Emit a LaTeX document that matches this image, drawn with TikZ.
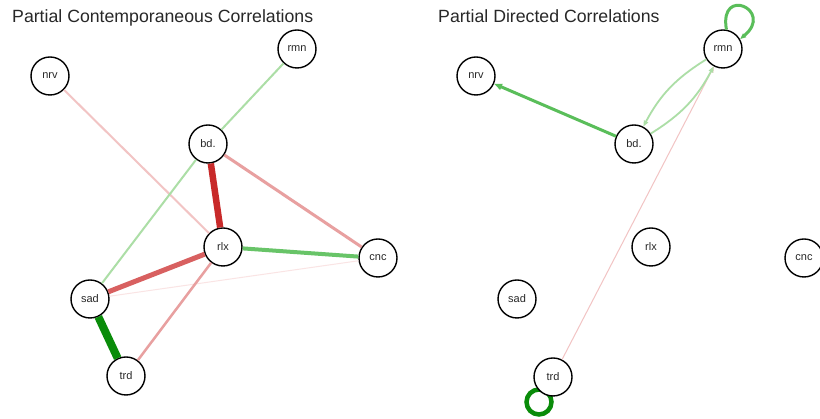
\documentclass[tikz,border=0pt]{standalone}
\usepackage{fontspec}
\setmainfont{Liberation Sans}
\usetikzlibrary{arrows.meta,calc,backgrounds}
\definecolor{gLight}{RGB}{172,222,166}
\definecolor{gMid}{RGB}{104,196,104}
\definecolor{gArr}{RGB}{90,190,90}
\definecolor{gDark}{RGB}{10,140,10}
\definecolor{rDark}{RGB}{200,42,42}
\definecolor{rMid}{RGB}{216,96,96}
\definecolor{rLight}{RGB}{232,160,160}
\definecolor{rPale}{RGB}{242,196,196}
\definecolor{rFaint}{RGB}{250,228,228}
\definecolor{txt}{RGB}{40,40,40}
\begin{document}
\begin{tikzpicture}[x=1pt,y=1pt,
  vnode/.style={circle,draw=black,fill=white,line width=1.4pt,minimum size=38pt,inner sep=0pt,
    font=\fontsize{11}{12}\selectfont,text=txt},
  ttl/.style={anchor=base west,inner sep=0pt,font=\fontsize{17.7}{20}\selectfont,text=txt},
  tip/.style={-{Triangle[length=8pt,width=6pt]}},
  smalltip/.style={-{Triangle[length=6pt,width=4.5pt]}}]
\path[use as bounding box] (0,0) rectangle (820,419);

\node[ttl] (t1) at (12,396) {Partial Contemporaneous Correlations};
\node[ttl] (t2) at (438,396) {Partial Directed Correlations};

% left panel nodes
\node[vnode] (Lnrv) at (50,343) {nrv};
\node[vnode] (Lrmn) at (297,370) {rmn};
\node[vnode] (Lbd) at (208,275) {bd.};
\node[vnode] (Lrlx) at (223,172) {rlx};
\node[vnode] (Lcnc) at (378,161) {cnc};
\node[vnode] (Lsad) at (90,120) {sad};
\node[vnode] (Ltrd) at (126,43) {trd};

% left panel edges
\draw[rFaint,line width=1pt] (Lsad) -- (Lcnc);
\draw[rPale,line width=2pt] (Lnrv) -- (Lrlx);
\draw[gLight,line width=2pt] (Lrmn) -- (Lbd);
\draw[gLight,line width=2pt] (Lbd) -- (Lsad);
\draw[rLight,line width=2.5pt] (Lrlx) -- (Ltrd);
\draw[rLight,line width=3pt] (Lbd) -- (Lcnc);
\draw[gMid,line width=4pt] (Lrlx) -- (Lcnc);
\draw[rMid,line width=5pt] (Lrlx) -- (Lsad);
\draw[rDark,line width=6.5pt] (Lbd) -- (Lrlx);
\draw[gDark,line width=8pt] (Lsad) -- (Ltrd);

% right panel nodes
\node[vnode] (Rnrv) at (476,343) {nrv};
\node[vnode] (Rrmn) at (723,370) {rmn};
\node[vnode] (Rbd) at (634,275) {bd.};
\node[vnode] (Rrlx) at (651,172) {rlx};
\node[vnode] (Rcnc) at (804,161) {cnc};
\node[vnode] (Rsad) at (517,120) {sad};
\node[vnode] (Rtrd) at (553,42) {trd};

% right panel edges
\draw[rPale,line width=1pt,smalltip] (Rtrd) -- (Rrmn);
\draw[gArr,line width=3pt,tip] (Rbd) -- (Rnrv);
\draw[gLight,line width=1.8pt,smalltip] (Rrmn) to[bend right=15] (Rbd);
\draw[gLight,line width=1.8pt,smalltip] (Rbd) to[bend right=15] (Rrmn);
\draw[gArr,line width=3pt,smalltip] (Rrmn.80) .. controls +(100:45) and +(40:45) .. (Rrmn.30);
\begin{scope}[on background layer]
  \fill[white] (0,0) rectangle (820,419);
  \draw[gDark,line width=4.5pt] ($(Rtrd)+(-14,-25)$) circle[radius=12.5];
\end{scope}
\end{tikzpicture}
\end{document}
